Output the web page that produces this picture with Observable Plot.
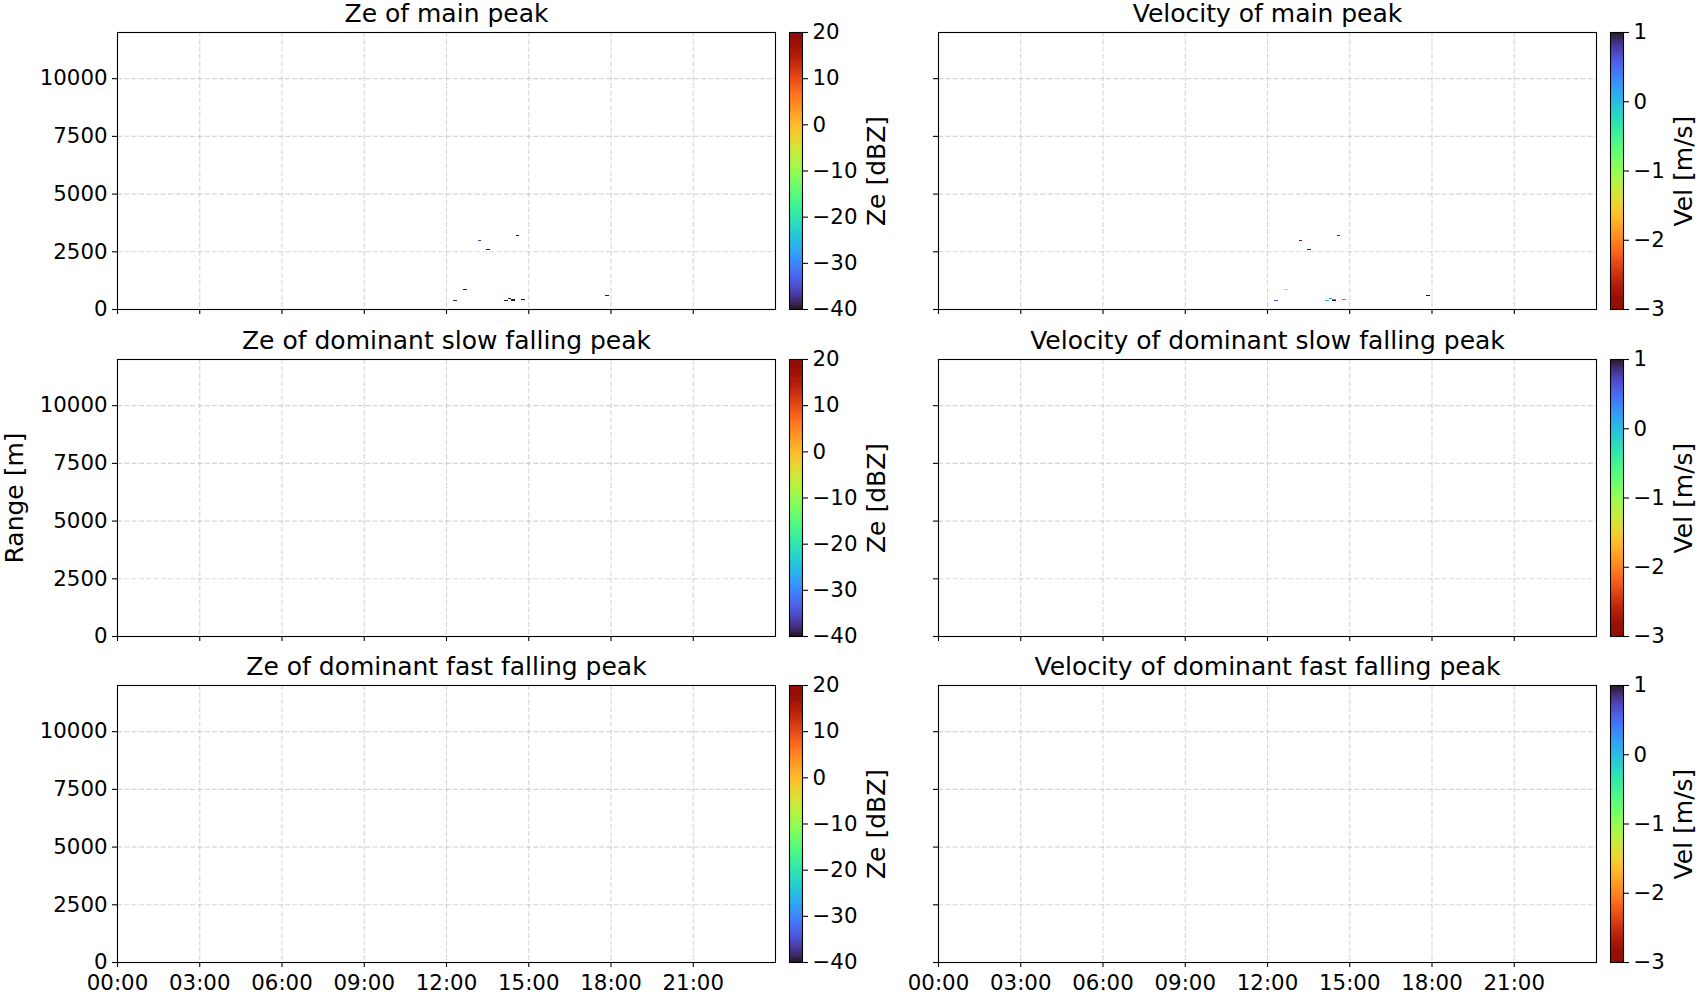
<!DOCTYPE html>
<html><head><meta charset="utf-8">
<script src="https://cdn.jsdelivr.net/npm/d3@7"></script>
<script src="https://cdn.jsdelivr.net/npm/@observablehq/plot@0.6"></script>
<style>
body{margin:0;background:#fff;}
#fig{position:relative;width:1700px;height:1000px;overflow:hidden;background:#fff;font-family:"DejaVu Sans",sans-serif;}
#fig > svg{position:absolute;overflow:visible;}
</style></head><body><div id="fig"></div>
<script>
// ---------- data ----------
const timeTicks = [0, 3, 6, 9, 12, 15, 18, 21];           // hours
const rangeTicks = [0, 2500, 5000, 7500, 10000];          // m
const zeTicks = [-40, -30, -20, -10, 0, 10, 20];          // dBZ
const velTicks = [-3, -2, -1, 0, 1];                      // m/s
const zeDomain = [-40, 20];
const velDomain = [-3, 1];

const zeTitles = ["Ze of main peak", "Ze of dominant slow falling peak", "Ze of dominant fast falling peak"];
const velTitles = ["Velocity of main peak", "Velocity of dominant slow falling peak", "Velocity of dominant fast falling peak"];

// main peak cells (start time [h], duration [h], range [m], Ze [dBZ], velocity [m/s])
const mainStart = [12.244, 12.607, 13.153, 13.444, 14.100, 14.244, 14.389, 14.389, 14.535, 14.753, 17.807];
const mainDur   = [0.145, 0.145, 0.109, 0.145, 0.145, 0.145, 0.145, 0.145, 0.145, 0.145, 0.145];
const mainRange = [377, 853, 2975, 2585, 377, 446, 411, 368, 3183, 420, 593];
const mainZe    = [-39, -41, -36, -42, -41, -41, -41, -42, -42, -41, -42];
const mainVel   = [0.6, -1.55, -3.1, -3.2, 0.0, 0.3, 0.3, 1.0, -3.2, 0.15, 1.0];

// dominant slow / fast falling peaks: no detections in the picture
const slowStart = [], slowDur = [], slowRange = [], slowZe = [], slowVel = [];
const fastStart = [], fastDur = [], fastRange = [], fastZe = [], fastVel = [];

// ---------- layout ----------
const FONT = "DejaVu Sans";
const TICK_FS = "21.3px";
const PW = 658, PH = 277;
const colX = [117, 938];
const rowY = [32, 358.5, 685];
const cbX = [789, 1610];
const CB_W = 13;
const CELL = 43;   // range-gate height in m (drawn size)

const fig = document.getElementById("fig");
const zeColor = {type: "linear", scheme: "turbo", domain: zeDomain, clamp: true};
const velColor = {type: "linear", scheme: "turbo", domain: velDomain, reverse: true, clamp: true};
const timeFmt = h => String(h).padStart(2, "0") + ":00";
const gridStyle = {stroke: "#b0b0b0", strokeOpacity: 0.5, strokeDasharray: "5.1,2.2", strokeWidth: 1.1};

function panel({left, top, title, start, dur, range, vals, color, showX, showY, yLabel}) {
  const ML = 110, MR = 12, MT = 46, MB = 46;
  const idx = d3.range(start.length);
  const marks = [
    Plot.gridX(timeTicks, gridStyle),
    Plot.gridY(rangeTicks, gridStyle),
    Plot.rect(idx, {
      x1: i => start[i], x2: i => start[i] + dur[i],
      y1: i => range[i] - CELL / 2, y2: i => range[i] + CELL / 2,
      fill: i => vals[i], shapeRendering: "crispEdges"
    }),
    Plot.frame({stroke: "black", strokeWidth: 1.1}),
    Plot.axisX(timeTicks, {tickSize: 5, tickPadding: 7, tickFormat: showX ? timeFmt : () => "", label: null, strokeWidth: 1.1}),
    Plot.axisY(rangeTicks, {tickSize: 5, tickPadding: 5, tickFormat: showY ? d3.format("d") : () => "", label: null, strokeWidth: 1.1}),
    Plot.text([title], {frameAnchor: "top", dy: -10.5, lineAnchor: "bottom", fontSize: 25, fill: "black"})
  ];
  if (yLabel) marks.push(Plot.text([yLabel], {frameAnchor: "left", dx: -103, rotate: -90, textAnchor: "middle", lineAnchor: "middle", fontSize: 25, fill: "black"}));
  const chart = Plot.plot({
    width: ML + PW + MR, height: MT + PH + MB,
    marginLeft: ML, marginRight: MR, marginTop: MT, marginBottom: MB,
    style: {fontFamily: FONT, fontSize: TICK_FS, color: "black", background: "transparent", overflow: "visible"},
    x: {domain: [0, 24]},
    y: {domain: [0, 12000]},
    color,
    marks
  });
  chart.style.left = (left - ML) + "px";
  chart.style.top = (top - MT) + "px";
  fig.appendChild(chart);
}

function colorbar({left, top, domain, ticks, color, label, labelDx}) {
  const ML = 2, MR = 110, MT = 12, MB = 12;
  const step = (domain[1] - domain[0]) / 400;
  const slices = d3.range(domain[0], domain[1] - step / 2, step);
  const chart = Plot.plot({
    width: ML + CB_W + MR, height: MT + PH + MB,
    marginLeft: ML, marginRight: MR, marginTop: MT, marginBottom: MB,
    style: {fontFamily: FONT, fontSize: TICK_FS, color: "black", background: "transparent", overflow: "visible"},
    x: {domain: [0, 1], axis: null},
    y: {domain},
    color,
    marks: [
      Plot.rect(slices, {x1: 0, x2: 1, y1: d => d, y2: d => Math.min(d + step * 1.8, domain[1]), fill: d => d + step / 2}),
      Plot.frame({stroke: "black", strokeWidth: 1.1}),
      Plot.axisY(ticks, {anchor: "right", tickSize: 5, tickPadding: 5, tickFormat: d3.format("d"), label: null, strokeWidth: 1.1}),
      Plot.text([label], {frameAnchor: "right", dx: labelDx, rotate: -90, textAnchor: "middle", lineAnchor: "middle", fontSize: 25, fill: "black"})
    ]
  });
  chart.style.left = (left - ML) + "px";
  chart.style.top = (top - MT) + "px";
  fig.appendChild(chart);
}

const sets = [
  {start: mainStart, dur: mainDur, range: mainRange, ze: mainZe, vel: mainVel},
  {start: slowStart, dur: slowDur, range: slowRange, ze: slowZe, vel: slowVel},
  {start: fastStart, dur: fastDur, range: fastRange, ze: fastZe, vel: fastVel}
];

sets.forEach((s, r) => {
  panel({left: colX[0], top: rowY[r], title: zeTitles[r], start: s.start, dur: s.dur, range: s.range, vals: s.ze,
         color: zeColor, showX: r === 2, showY: true, yLabel: r === 1 ? "Range [m]" : null});
  panel({left: colX[1], top: rowY[r], title: velTitles[r], start: s.start, dur: s.dur, range: s.range, vals: s.vel,
         color: velColor, showX: r === 2, showY: false, yLabel: null});
  colorbar({left: cbX[0], top: rowY[r], domain: zeDomain, ticks: zeTicks, color: zeColor, label: "Ze [dBZ]", labelDx: 74});
  colorbar({left: cbX[1], top: rowY[r], domain: velDomain, ticks: velTicks, color: velColor, label: "Vel [m/s]", labelDx: 60});
});
</script></body></html>
